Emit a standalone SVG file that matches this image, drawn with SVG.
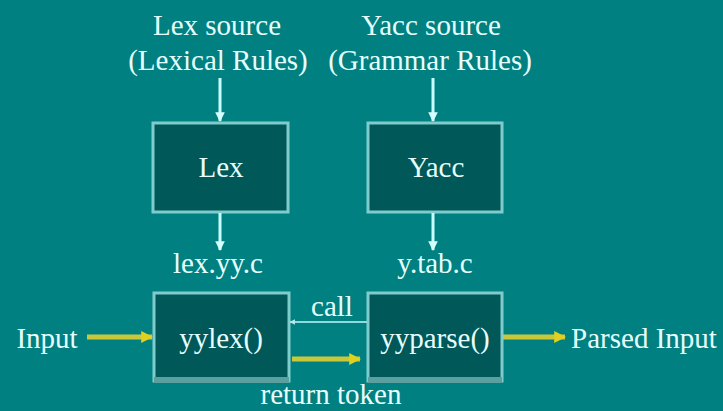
<svg xmlns="http://www.w3.org/2000/svg" width="723" height="411" viewBox="0 0 723 411">
<defs>
<style>
.t{font-family:'Liberation Serif','Times New Roman','DejaVu Serif',serif;font-size:29px;fill:#e6ffff;text-anchor:middle}
.box{fill:#005858;stroke:#80cccc;stroke-width:3}
.shadow{fill:none;stroke:#5aa0a0;stroke-width:6}
.wl{stroke:#c8ffff;stroke-width:3;fill:none}
.thin{stroke:#90dada;stroke-width:2;fill:none}
.yl{stroke:#c8c83a;stroke-width:5;fill:none}
</style>
<marker id="wh" viewBox="0 0 10 10" refX="9" refY="5" markerWidth="3.2" markerHeight="3.2" orient="auto" markerUnits="strokeWidth"><path d="M0,0 L10,5 L0,10 z" fill="#d8ffff"/></marker>
<marker id="th" viewBox="0 0 10 10" refX="9" refY="5" markerWidth="3" markerHeight="3" orient="auto" markerUnits="strokeWidth"><path d="M0,0 L10,5 L0,10 z" fill="#b0e8e8"/></marker>
<marker id="yh" viewBox="0 0 10 10" refX="9" refY="5" markerWidth="2.4" markerHeight="2.4" orient="auto" markerUnits="strokeWidth"><path d="M0,0 L10,5 L0,10 z" fill="#e0d020"/></marker>
</defs>
<rect width="723" height="411" fill="#008080"/>
<g id="labels" font-family="Liberation Serif, serif">
<text class="t" x="217" y="35">Lex source</text>
<text class="t" x="218" y="70">(Lexical Rules)</text>
<text class="t" x="431" y="35">Yacc source</text>
<text class="t" x="430" y="70">(Grammar Rules)</text>
<text class="t" x="218" y="273">lex.yy.c</text>
<text class="t" x="435" y="273">y.tab.c</text>
<text class="t" x="47" y="348">Input</text>
<text class="t" x="644" y="348">Parsed Input</text>
<text class="t" x="332" y="316">call</text>
<text class="t" x="331" y="404">return token</text>
</g>
<g id="lex">
<rect class="box" x="153" y="123" width="135" height="89"/>
<text class="t" x="221" y="177">Lex</text>
</g>
<g id="yacc">
<rect class="box" x="368" y="123" width="134" height="89"/>
<text class="t" x="436" y="177">Yacc</text>
</g>
<g id="yylex">
<rect class="box" x="154" y="293" width="135" height="88"/>
<line class="shadow" x1="154" y1="380" x2="289" y2="380"/>
<text class="t" x="221" y="348">yylex()</text>
</g>
<g id="yyparse">
<rect class="box" x="368" y="293" width="134" height="88"/>
<line class="shadow" x1="368" y1="380" x2="502" y2="380"/>
<text class="t" x="435" y="348">yyparse()</text>
</g>
<g id="connectors">
<line class="wl" x1="220" y1="78" x2="220" y2="121" marker-end="url(#wh)"/>
<line class="wl" x1="433" y1="78" x2="433" y2="121" marker-end="url(#wh)"/>
<line class="wl" x1="220" y1="213" x2="220" y2="250" marker-end="url(#wh)"/>
<line class="wl" x1="433" y1="213" x2="433" y2="250" marker-end="url(#wh)"/>
<line class="thin" x1="367" y1="322" x2="290" y2="322" marker-end="url(#th)"/>
<line class="yl" x1="87" y1="337" x2="152" y2="337" marker-end="url(#yh)"/>
<line class="yl" x1="292" y1="359" x2="360" y2="359" marker-end="url(#yh)"/>
<line class="yl" x1="503" y1="337" x2="565" y2="337" marker-end="url(#yh)"/>
</g>
</svg>
